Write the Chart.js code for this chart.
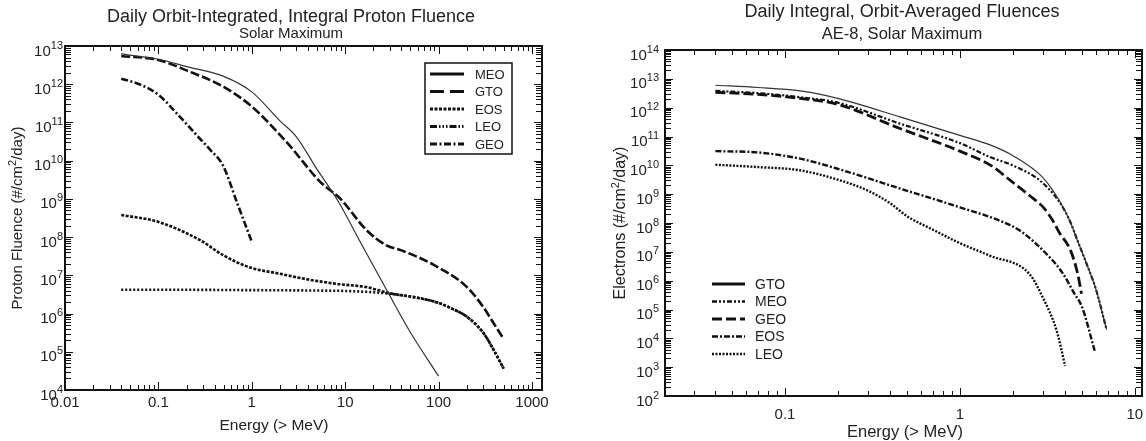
<!DOCTYPE html>
<html>
<head>
<meta charset="utf-8">
<title>Daily fluences</title>
<script src="https://cdn.jsdelivr.net/npm/chart.js@4.4.0/dist/chart.umd.min.js"></script>
<style>
	body { margin: 0; background: #fff; }
	.panel { position: absolute; top: 0; }
</style>
</head>
<body>
<div class="panel" style="left:0"><canvas id="protonChart" width="575" height="441"></canvas></div>
<div class="panel" style="left:575px"><canvas id="electronChart" width="571" height="441"></canvas></div>
<script>
// ---- left panel: integral proton fluence, energy (> MeV) vs #/cm2/day ----
var protonNames = ['MEO', 'GTO', 'EOS', 'LEO', 'GEO'];
var protonTickLabels = ['0.01', '0.1', '1', '10', '100', '1000'];

var pMeoE = [0.04, 0.1, 0.2, 0.5, 1, 2, 3, 5, 8.5, 15, 28, 50, 100];
var pMeoF = [6.2e12, 4.5e12, 2.9e12, 1.6e12, 6.3e11, 1.1e11, 4.2e10, 5.9e9, 8.3e8, 6.4e7, 4e6, 3.2e5, 2.3e4];

var pGtoE = [0.04, 0.1, 0.2, 0.5, 1, 2.4, 5.4, 8.9, 17, 28, 40, 88, 200, 300, 390, 490];
var pGtoF = [5.5e12, 4.3e12, 2.3e12, 8.5e11, 2.6e11, 2.9e10, 2.8e9, 1e9, 1.5e8, 6e7, 4.5e7, 1.9e7, 5e6, 1.5e6, 5.5e5, 2.3e5];

var pEosE = [0.04, 0.1, 0.28, 0.5, 0.96, 2, 3.3, 8, 17, 30, 59, 100, 134, 202, 305, 390, 498];
var pEosF = [3.8e8, 2.5e8, 8.3e7, 3.3e7, 1.6e7, 1.1e7, 8.5e6, 6e6, 4.9e6, 3.4e6, 2.6e6, 1.9e6, 1.4e6, 8.2e5, 3e5, 1.1e5, 3.6e4];

var pLeoE = [0.04, 0.1, 1, 5, 10, 20, 30, 59, 100, 134, 202, 305, 390, 498];
var pLeoF = [4.2e6, 4.2e6, 4.1e6, 4e6, 3.9e6, 3.6e6, 3.3e6, 2.6e6, 1.9e6, 1.4e6, 8.2e5, 3e5, 1.1e5, 3.6e4];

var pGeoE = [0.04, 0.065, 0.1, 0.17, 0.25, 0.36, 0.49, 0.7, 1];
var pGeoF = [1.4e12, 9.6e11, 5.3e11, 1.4e11, 5e10, 1.9e10, 7.6e9, 7.6e8, 7.5e7];

// ---- right panel: AE-8 electrons ----
var electronNames = ['GTO', 'MEO', 'GEO', 'EOS', 'LEO'];
var electronTickLabels = ['0.1', '1', '10'];

var eGtoE = [0.04, 0.07, 0.122, 0.2, 0.454, 1, 1.5, 2, 3, 3.7, 4.25, 4.7, 5.3, 6, 6.9];
var eGtoF = [6e12, 5e12, 3.8e12, 2.1e12, 4.8e11, 1.1e11, 5e10, 2.2e10, 3.6e9, 6e8, 1.2e8, 2.5e7, 3.9e6, 5e5, 2e4];

var eMeoE = [0.04, 0.07, 0.122, 0.2, 0.454, 1, 1.5, 2, 2.86, 3.7, 4.25, 4.7, 5.3, 6, 6.9];
var eMeoF = [3.8e12, 3.2e12, 2.3e12, 1.5e12, 2.8e11, 5.9e10, 1.9e10, 1e10, 3e9, 5.5e8, 1.2e8, 2.5e7, 3.9e6, 5e5, 2e4];

var eGeoE = [0.04, 0.07, 0.122, 0.2, 0.454, 1, 1.5, 2, 2.5, 3, 3.4, 3.7, 4.3, 4.72, 4.96];
var eGeoF = [3.4e12, 2.9e12, 2.1e12, 1.3e12, 1.9e11, 3.1e10, 1e10, 2.6e9, 9e8, 3.5e8, 1.2e8, 4.7e7, 1.1e7, 1.7e6, 3.5e5];

var eEosE = [0.04, 0.07, 0.122, 0.2, 0.45, 1, 1.69, 2.2, 3.3, 3.9, 4.5, 5, 5.9];
var eEosF = [3.1e10, 2.8e10, 1.7e10, 7.6e9, 1.6e9, 3.5e8, 1.2e8, 5.5e7, 6e6, 1.7e6, 3.7e5, 1.2e5, 3.7e3];

var eLeoE = [0.04, 0.07, 0.12, 0.2, 0.3, 0.4, 0.5, 0.7, 1, 1.48, 2.5, 2.98, 3.58, 4.0];
var eLeoF = [1.05e10, 8.7e9, 6.8e9, 3.2e9, 1.3e9, 4.8e8, 1.7e8, 5.9e7, 2e7, 7.4e6, 1.7e6, 2.6e5, 1.8e4, 1.1e3];

var INK = '#111';
var TEXT = '#222';
var FONT = '"Liberation Sans", Arial, sans-serif';

function series(e, f) {
	return e.map(function (v, i) { return {x: v, y: f[i]}; });
}

function line(name, e, f, st) {
	return {
		label: name,
		data: series(e, f),
		borderColor: st.color || INK,
		borderWidth: st.width,
		borderDash: st.dash,
		legendWidth: st.legendWidth || st.width,
		legendDash: st.legendDash || st.dash,
		pointRadius: 0,
		fill: false,
		cubicInterpolationMode: 'monotone'
	};
}

function logTicks(min, max) {
	var out = [];
	for (var d = Math.floor(Math.log10(min)); d <= Math.ceil(Math.log10(max)); d++) {
		for (var m = 1; m < 10; m++) {
			var v = m * Math.pow(10, d);
			if (v >= min * 0.999 && v <= max * 1.001) out.push({v: v, major: m === 1});
		}
	}
	return out;
}

function seg(ctx, x1, y1, x2, y2) {
	ctx.beginPath(); ctx.moveTo(x1, y1); ctx.lineTo(x2, y2); ctx.stroke();
}

// text made of pieces, some raised (superscripts)
function parts(ctx, list, x, y, align) {
	var w = 0;
	list.forEach(function (p) { ctx.font = p.size + 'px ' + FONT; p.w = ctx.measureText(p.t).width; w += p.w; });
	var cx = align === 'right' ? x - w : align === 'center' ? x - w / 2 : x;
	ctx.textAlign = 'left';
	ctx.textBaseline = 'alphabetic';
	list.forEach(function (p) {
		ctx.font = p.size + 'px ' + FONT;
		ctx.fillText(p.t, cx, y - (p.rise || 0));
		cx += p.w;
	});
}

function panelDecor(o) {
	return {
		id: 'panelDecor',
		afterDraw: function (chart) {
			var ctx = chart.ctx, a = chart.chartArea, xs = chart.scales.x, ys = chart.scales.y;
			ctx.save();
			ctx.strokeStyle = INK;
			ctx.fillStyle = TEXT;
			ctx.lineWidth = 1;

			// inward ticks on all four sides
			logTicks(xs.min, xs.max).forEach(function (t) {
				var px = Math.round(xs.getPixelForValue(t.v)) + 0.5, len = t.major ? 8 : 5;
				seg(ctx, px, a.bottom, px, a.bottom - len);
				seg(ctx, px, a.top, px, a.top + len);
			});
			logTicks(ys.min, ys.max).forEach(function (t) {
				var py = Math.round(ys.getPixelForValue(t.v)) + 0.5, len = t.major ? 8 : 6;
				seg(ctx, a.left, py, a.left + len, py);
				seg(ctx, a.right, py, a.right - len, py);
			});
			ctx.lineWidth = 2;
			ctx.strokeRect(a.left, a.top, a.right - a.left, a.bottom - a.top);

			// x tick labels
			ctx.font = o.tickSize + 'px ' + FONT;
			ctx.textAlign = 'center';
			ctx.textBaseline = 'top';
			o.xTicks.forEach(function (s) {
				ctx.fillText(s, xs.getPixelForValue(parseFloat(s)), a.bottom + o.xTickGap);
			});

			// y tick labels 10^n
			for (var d = Math.ceil(Math.log10(ys.min)); d <= Math.floor(Math.log10(ys.max)); d++) {
				var py = ys.getPixelForValue(Math.pow(10, d));
				parts(ctx, [{t: '10', size: o.tickSize}, {t: String(d), size: 11, rise: 7}], a.left - o.yTickGap, py + 9.5, 'right');
			}

			// titles
			ctx.font = '18px ' + FONT;
			ctx.textAlign = 'center';
			ctx.textBaseline = 'middle';
			ctx.fillText(o.title, o.titleX, o.titleY);
			ctx.font = o.subSize + 'px ' + FONT;
			ctx.fillText(o.subtitle, o.titleX, o.subY);
			ctx.font = o.xTitleSize + 'px ' + FONT;
			ctx.fillText('Energy (> MeV)', o.xTitleX, o.xTitleY);

			// rotated y title with cm² superscript
			ctx.save();
			ctx.translate(o.yTitleX, (a.top + a.bottom) / 2);
			ctx.rotate(-Math.PI / 2);
			parts(ctx, [
				{t: o.yTitle + ' (#/cm', size: o.yTitleSize},
				{t: '2', size: Math.round(o.yTitleSize * 0.7), rise: 6},
				{t: '/day)', size: o.yTitleSize}
			], 0, o.yTitleSize * 0.36, 'center');
			ctx.restore();

			// legend
			var L = o.legend;
			if (L.box) {
				ctx.lineWidth = 1.5;
				ctx.strokeRect(L.box[0], L.box[1], L.box[2], L.box[3]);
			}
			ctx.font = L.size + 'px ' + FONT;
			ctx.textAlign = 'left';
			ctx.textBaseline = 'middle';
			chart.data.datasets.forEach(function (ds, i) {
				var y = L.y0 + i * L.step;
				ctx.strokeStyle = INK;
				ctx.lineWidth = ds.legendWidth;
				ctx.setLineDash(ds.legendDash);
				seg(ctx, L.x0, y, L.x1, y);
				ctx.setLineDash([]);
				ctx.fillText(ds.label, L.tx, y + 1);
			});
			ctx.restore();
		}
	};
}

function logAxes(xmin, xmax, ymin, ymax) {
	return {
		x: {type: 'logarithmic', min: xmin, max: xmax, display: false},
		y: {type: 'logarithmic', min: ymin, max: ymax, display: false}
	};
}

var protonStyle = {
	MEO: {width: 1.2, dash: [], color: '#333', legendWidth: 3},
	GTO: {width: 2.6, dash: [9, 3], legendWidth: 3, legendDash: [14, 6]},
	EOS: {width: 2.6, dash: [3, 1.5], legendWidth: 3},
	LEO: {width: 2.6, dash: [2, 2], legendWidth: 3, legendDash: [7, 2, 1.5, 2, 1.5, 2, 1.5, 2]},
	GEO: {width: 2.6, dash: [7, 2.5, 2, 2.5], legendWidth: 3}
};
var protonData = {
	MEO: [pMeoE, pMeoF], GTO: [pGtoE, pGtoF], EOS: [pEosE, pEosF], LEO: [pLeoE, pLeoF], GEO: [pGeoE, pGeoF]
};

new Chart(document.getElementById('protonChart').getContext('2d'), {
	type: 'line',
	data: {
		datasets: protonNames.map(function (n) { return line(n, protonData[n][0], protonData[n][1], protonStyle[n]); })
	},
	options: {
		responsive: false,
		animation: false,
		layout: {padding: {left: 65, top: 46, right: 33, bottom: 51}},
		scales: logAxes(0.01, 1280, 1e4, 1e13),
		plugins: {legend: {display: false}, tooltip: {enabled: false}}
	},
	plugins: [panelDecor({
		title: 'Daily Orbit-Integrated, Integral Proton Fluence', titleX: 291, titleY: 17,
		subtitle: 'Solar Maximum', subSize: 15, subY: 34,
		xTicks: protonTickLabels, tickSize: 15, xTickGap: 5, yTickGap: 2,
		xTitleX: 274, xTitleY: 426, xTitleSize: 15.5,
		yTitle: 'Proton Fluence', yTitleX: 17, yTitleSize: 15,
		legend: {box: [425, 63, 87, 91], x0: 430, x1: 464, tx: 475, y0: 74, step: 17.5, size: 13}
	})]
});

var electronStyle = {
	GTO: {width: 1.2, dash: [], color: '#333', legendWidth: 3},
	MEO: {width: 2.2, dash: [5, 2, 2, 2, 2, 2], legendWidth: 2.5},
	GEO: {width: 2.8, dash: [10, 4], legendWidth: 3},
	EOS: {width: 2.4, dash: [6, 2, 2, 2], legendWidth: 2.5},
	LEO: {width: 2.4, dash: [2, 1.5], legendWidth: 2.5}
};
var electronData = {
	GTO: [eGtoE, eGtoF], MEO: [eMeoE, eMeoF], GEO: [eGeoE, eGeoF], EOS: [eEosE, eEosF], LEO: [eLeoE, eLeoF]
};

new Chart(document.getElementById('electronChart').getContext('2d'), {
	type: 'line',
	data: {
		datasets: electronNames.map(function (n) { return line(n, electronData[n][0], electronData[n][1], electronStyle[n]); })
	},
	options: {
		responsive: false,
		animation: false,
		layout: {padding: {left: 90, top: 50, right: 4, bottom: 45}},
		scales: logAxes(0.0206, 11, 1e2, 1e14),
		plugins: {legend: {display: false}, tooltip: {enabled: false}}
	},
	plugins: [panelDecor({
		title: 'Daily Integral, Orbit-Averaged Fluences', titleX: 327, titleY: 12,
		subtitle: 'AE-8, Solar Maximum', subSize: 16.5, subY: 34,
		xTicks: electronTickLabels, tickSize: 15, xTickGap: 11, yTickGap: 6,
		xTitleX: 330, xTitleY: 432, xTitleSize: 16.5,
		yTitle: 'Electrons', yTitleX: 44, yTitleSize: 16,
		legend: {box: null, x0: 137, x1: 170, tx: 180, y0: 284, step: 17.5, size: 14}
	})]
});
</script>
</body>
</html>
